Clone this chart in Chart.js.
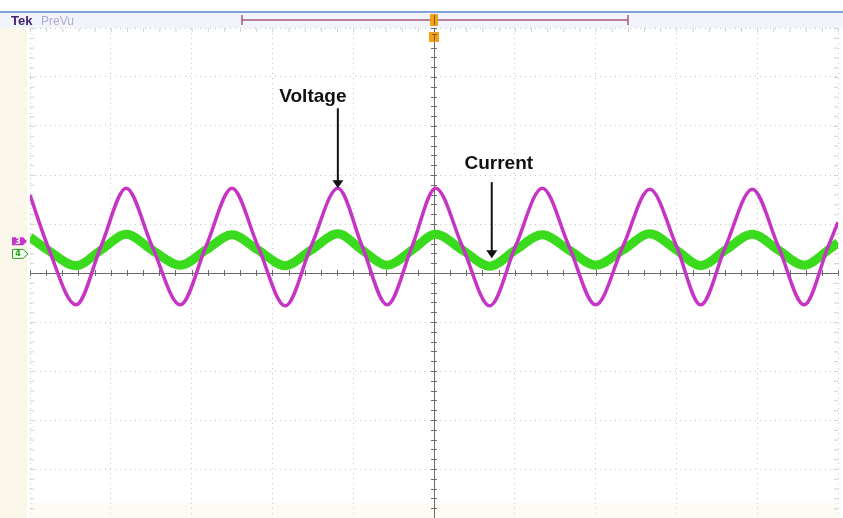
<!DOCTYPE html>
<html>
<head>
<meta charset="utf-8">
<script src="https://cdn.jsdelivr.net/npm/chart.js@4.4.1/dist/chart.umd.min.js"></script>
<style>
  body { margin: 0; background: #fff; }
  #wrap { width: 843px; height: 518px; }
</style>
</head>
<body>
<div id="wrap"><canvas id="scope" width="843" height="518"></canvas></div>
<script>
// screen is 10 x 10 divisions, centre = 0
var timeDiv = [-5.00, -4.78, -4.43, -4.12, -3.81, -3.49, -3.14, -2.82, -2.50, -2.18, -1.84,
               -1.52, -1.19, -0.89, -0.58, -0.27, 0.02, 0.35, 0.69, 1.01, 1.34, 1.67,
               2.00, 2.34, 2.67, 3.00, 3.30, 3.61, 3.94, 4.26, 4.58, 4.88, 5.00];
var voltageDiv = [1.59, 0.55, -0.65, 0.55, 1.73, 0.55, -0.65, 0.55, 1.73, 0.55, -0.67,
                  0.55, 1.73, 0.55, -0.65, 0.55, 1.73, 0.55, -0.67, 0.55, 1.73, 0.55,
                  -0.65, 0.55, 1.71, 0.55, -0.65, 0.55, 1.71, 0.55, -0.65, 0.55, 1.04];
var currentDiv = [0.73, 0.47, 0.15, 0.47, 0.79, 0.47, 0.16, 0.47, 0.78, 0.47, 0.15,
                  0.47, 0.80, 0.47, 0.16, 0.47, 0.79, 0.47, 0.14, 0.47, 0.78, 0.47,
                  0.16, 0.47, 0.80, 0.47, 0.15, 0.47, 0.79, 0.47, 0.16, 0.47, 0.62];

// channel ground markers (div)
var ch3Level = 0.65;
var ch4Level = 0.39;

var voltColor = '#c534c5';
var currColor = '#3ada1c';

function toPoints(ys) {
	var pts = [];
	for (var i = 0; i < timeDiv.length; i++) pts.push({ x: timeDiv[i], y: ys[i] });
	return pts;
}

function arrowDown(ctx, x, y0, y1) {
	ctx.strokeStyle = '#111';
	ctx.fillStyle = '#111';
	ctx.lineWidth = 2;
	ctx.beginPath();
	ctx.moveTo(x, y0);
	ctx.lineTo(x, y1 - 7);
	ctx.stroke();
	ctx.beginPath();
	ctx.moveTo(x - 5.5, y1 - 8);
	ctx.lineTo(x + 5.5, y1 - 8);
	ctx.lineTo(x, y1);
	ctx.closePath();
	ctx.fill();
}

var scopeFrame = {
	id: 'scopeFrame',
	beforeDraw: function(chart) {
		var ctx = chart.ctx;
		ctx.save();
		ctx.fillStyle = '#fff';
		ctx.fillRect(0, 0, chart.width, chart.height);
		// header strip
		ctx.fillStyle = '#f1f5fb';
		ctx.fillRect(0, 13, chart.width, 15);
		ctx.fillStyle = '#7ea2d8';
		ctx.fillRect(0, 11, chart.width, 2);
		// left cream strip
		ctx.fillStyle = '#faf7ea';
		ctx.fillRect(0, 28, 27, chart.height - 28);
		ctx.fillStyle = '#fefbf5';
		ctx.fillRect(30, 503, 808, 15);

		ctx.font = 'bold 13px "Liberation Sans", Arial, sans-serif';
		ctx.fillStyle = '#43236f';
		ctx.textBaseline = 'alphabetic';
		ctx.fillText('Tek', 11, 25);
		ctx.font = '12px "Liberation Sans", Arial, sans-serif';
		ctx.fillStyle = '#b3a6d3';
		ctx.fillText('PreVu', 41, 25);

		// record view bar
		ctx.strokeStyle = '#a8587a';
		ctx.lineWidth = 1.5;
		ctx.beginPath();
		ctx.moveTo(242, 20); ctx.lineTo(628, 20);
		ctx.moveTo(242, 15); ctx.lineTo(242, 25);
		ctx.moveTo(628, 15); ctx.lineTo(628, 25);
		ctx.stroke();
		ctx.restore();
	},
	beforeDatasetsDraw: function(chart) {
		var ctx = chart.ctx, xs = chart.scales.x, ys = chart.scales.y;
		var a = chart.chartArea;
		var cx = xs.getPixelForValue(0), cy = ys.getPixelForValue(0);
		var v;
		ctx.save();
		// edge ticks
		ctx.strokeStyle = '#d0d0d0';
		ctx.lineWidth = 1;
		ctx.beginPath();
		for (v = -5; v <= 5.001; v += 0.2) {
			var py = ys.getPixelForValue(v), px = xs.getPixelForValue(v);
			ctx.moveTo(a.left, py + 0.5); ctx.lineTo(a.left + 4, py + 0.5);
			ctx.moveTo(a.right - 4, py + 0.5); ctx.lineTo(a.right, py + 0.5);
			ctx.moveTo(px + 0.5, a.top); ctx.lineTo(px + 0.5, a.top + 4);
		}
		ctx.stroke();
		// centre cross
		ctx.strokeStyle = '#6b6b6b';
		ctx.beginPath();
		ctx.moveTo(Math.round(cx) + 0.5, a.top);
		ctx.lineTo(Math.round(cx) + 0.5, a.bottom);
		ctx.moveTo(a.left, Math.round(cy) + 0.5);
		ctx.lineTo(a.right, Math.round(cy) + 0.5);
		for (v = -5; v <= 5.001; v += 0.2) {
			var tx = Math.round(xs.getPixelForValue(v)) + 0.5;
			var ty = Math.round(ys.getPixelForValue(v)) + 0.5;
			ctx.moveTo(tx, cy - 3); ctx.lineTo(tx, cy + 3);
			ctx.moveTo(cx - 3, ty); ctx.lineTo(cx + 3, ty);
		}
		ctx.stroke();
		ctx.restore();
	},
	afterDraw: function(chart) {
		var ctx = chart.ctx, xs = chart.scales.x, ys = chart.scales.y;
		var cx = xs.getPixelForValue(0);
		ctx.save();
		// trigger markers
		ctx.fillStyle = '#f2a11c';
		ctx.fillRect(cx - 4, 14, 8, 12);
		ctx.fillRect(cx - 5, 32, 10, 10);
		ctx.strokeStyle = '#8a5a00';
		ctx.lineWidth = 1;
		ctx.beginPath();
		ctx.moveTo(cx + 0.5, 15); ctx.lineTo(cx + 0.5, 25);
		ctx.moveTo(cx - 2, 34.5); ctx.lineTo(cx + 3, 34.5);
		ctx.moveTo(cx + 0.5, 34); ctx.lineTo(cx + 0.5, 41);
		ctx.stroke();

		// channel markers
		var y3 = ys.getPixelForValue(ch3Level), y4 = ys.getPixelForValue(ch4Level);
		ctx.fillStyle = voltColor;
		ctx.beginPath();
		ctx.moveTo(12, y3 - 4); ctx.lineTo(23, y3 - 4); ctx.lineTo(27, y3);
		ctx.lineTo(23, y3 + 4); ctx.lineTo(12, y3 + 4); ctx.closePath();
		ctx.fill();
		ctx.strokeStyle = '#2aa01a';
		ctx.fillStyle = '#f2fbef';
		ctx.beginPath();
		ctx.moveTo(12.5, y4 - 4.5); ctx.lineTo(23, y4 - 4.5); ctx.lineTo(28, y4);
		ctx.lineTo(23, y4 + 4.5); ctx.lineTo(12.5, y4 + 4.5); ctx.closePath();
		ctx.fill(); ctx.stroke();
		ctx.font = 'bold 8px "DejaVu Sans", sans-serif';
		ctx.textAlign = 'center';
		ctx.textBaseline = 'middle';
		ctx.fillStyle = '#fff';
		ctx.fillText('3', 18, y3 + 0.5);
		ctx.fillStyle = '#2aa01a';
		ctx.fillText('4', 18, y4 + 0.5);

		// annotations
		var vx = xs.getPixelForValue(timeDiv[12]), vy = ys.getPixelForValue(voltageDiv[12]);
		var ix = xs.getPixelForValue(timeDiv[18]), iy = ys.getPixelForValue(currentDiv[18]);
		arrowDown(ctx, vx, vy - 80, vy);
		arrowDown(ctx, ix + 2, iy - 84, iy - 8);
		ctx.font = 'bold 19px "Liberation Sans", Arial, sans-serif';
		ctx.fillStyle = '#111';
		ctx.textAlign = 'center';
		ctx.textBaseline = 'alphabetic';
		ctx.fillText('Voltage', vx - 25, vy - 86);
		ctx.fillText('Current', ix + 9, iy - 97);
		ctx.restore();
	}
};

var ctx = document.getElementById('scope');

var scopeChart = new Chart(ctx, {
	type: 'line',
	data: {
		datasets: [
			{
				label: 'Voltage',
				data: toPoints(voltageDiv),
				borderColor: voltColor,
				borderWidth: 3.5,
				pointRadius: 0,
				cubicInterpolationMode: 'monotone',
				fill: false,
				order: 1
			},
			{
				label: 'Current',
				data: toPoints(currentDiv),
				borderColor: currColor,
				borderWidth: 9,
				pointRadius: 0,
				cubicInterpolationMode: 'monotone',
				fill: false,
				order: 2
			}
		]
	},
	options: {
		responsive: false,
		animation: false,
		layout: { padding: { left: 30, right: 5, top: 28, bottom: 0 } },
		plugins: { legend: { display: false }, tooltip: { enabled: false } },
		scales: {
			x: {
				type: 'linear', min: -5, max: 5,
				ticks: { display: false, stepSize: 1 },
				grid: { color: '#c4c4c4', drawTicks: false },
				border: { display: false, dash: [1, 4] }
			},
			y: {
				type: 'linear', min: -5, max: 5,
				ticks: { display: false, stepSize: 1 },
				grid: { color: '#c4c4c4', drawTicks: false },
				border: { display: false, dash: [1, 4] }
			}
		}
	},
	plugins: [scopeFrame]
});
</script>
</body>
</html>
